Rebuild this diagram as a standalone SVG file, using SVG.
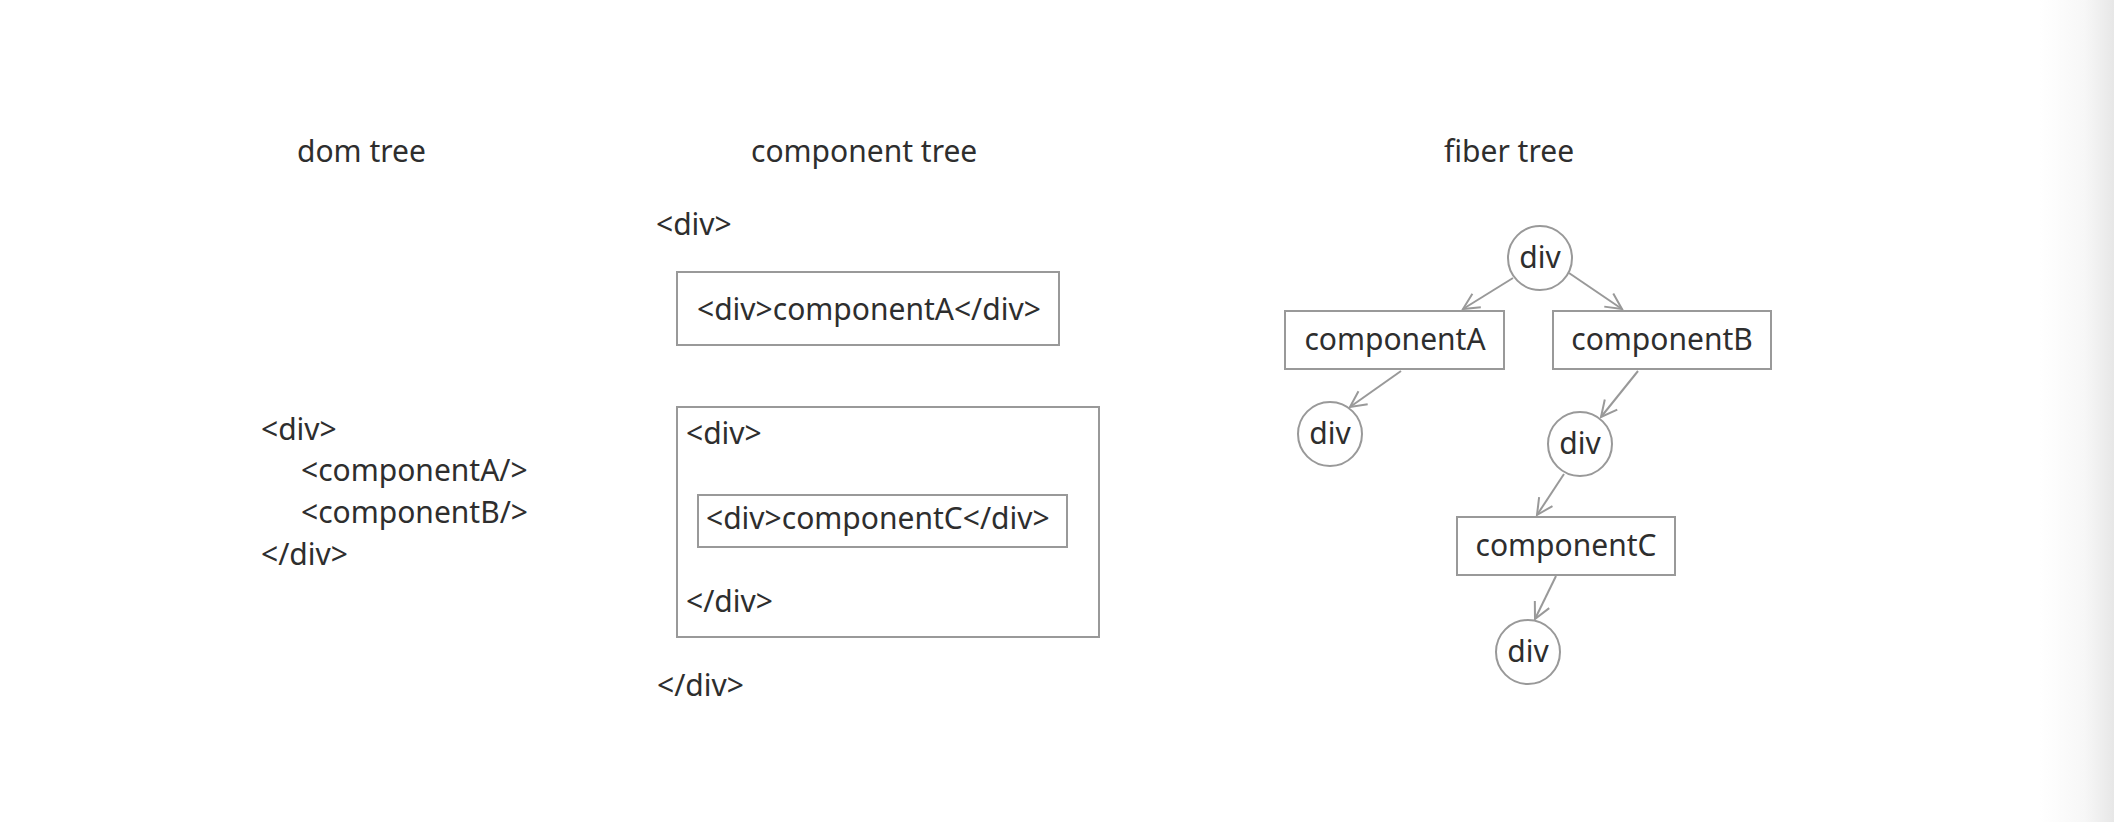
<svg xmlns="http://www.w3.org/2000/svg" width="2114" height="822" viewBox="0 0 2114 822">
<style>
text{font-family:"Noto Sans","Liberation Sans",sans-serif;font-size:30px;fill:#2e2e2e}
.box{fill:#fff;stroke:#999;stroke-width:2}
.edge{fill:none;stroke:#999;stroke-width:2;marker-end:url(#arr)}
.c{text-anchor:middle}
</style>
<defs>
<linearGradient id="edgeg" x1="0" y1="0" x2="1" y2="0">
<stop offset="0" stop-color="#ffffff"/>
<stop offset="0.6" stop-color="#f7f7f7"/>
<stop offset="1" stop-color="#e7e7e7"/>
</linearGradient>
<marker id="arr" markerUnits="userSpaceOnUse" markerWidth="40" markerHeight="40" viewBox="-20 -20 40 40" refX="0" refY="0" orient="auto">
<path d="M-16,-8 L0,0 L-16,8" fill="none" stroke="#999" stroke-width="2"/>
</marker>
</defs>
<rect x="0" y="0" width="2114" height="822" fill="#fff"/>
<rect x="2040" y="0" width="74" height="822" fill="url(#edgeg)"/>

<g id="titles">
<text x="297" y="162">dom tree</text>
<text x="751" y="162">component tree</text>
<text x="1444" y="162">fiber tree</text>
</g>

<g id="dom-tree">
<text x="261" y="440">&lt;div&gt;</text>
<text x="301" y="481">&lt;componentA/&gt;</text>
<text x="301" y="523">&lt;componentB/&gt;</text>
<text x="261" y="565">&lt;/div&gt;</text>
</g>

<g id="component-tree">
<text x="656" y="235">&lt;div&gt;</text>
<g id="compA">
<rect class="box" x="677" y="272" width="382" height="73"/>
<text x="697" y="320">&lt;div&gt;componentA&lt;/div&gt;</text>
</g>
<g id="compB">
<rect class="box" x="677" y="407" width="422" height="230"/>
<text x="686" y="444">&lt;div&gt;</text>
<g id="compC">
<rect class="box" x="698" y="495" width="369" height="52"/>
<text x="706" y="529">&lt;div&gt;componentC&lt;/div&gt;</text>
</g>
<text x="686" y="612">&lt;/div&gt;</text>
</g>
<text x="657" y="696">&lt;/div&gt;</text>
</g>

<g id="connectors">
<line class="edge" x1="1513" y1="278" x2="1463" y2="309"/>
<line class="edge" x1="1569" y1="273" x2="1622" y2="309"/>
<line class="edge" x1="1401" y1="371" x2="1350" y2="407"/>
<line class="edge" x1="1638" y1="371" x2="1601" y2="417"/>
<line class="edge" x1="1564" y1="474" x2="1537" y2="515"/>
<line class="edge" x1="1556" y1="576" x2="1535" y2="619"/>
</g>

<g id="fiber-root">
<circle class="box" cx="1540" cy="258" r="32"/>
<text class="c" x="1540" y="268">div</text>
</g>
<g id="fiber-compA">
<rect class="box" x="1285" y="311" width="219" height="58"/>
<text class="c" x="1395" y="350">componentA</text>
</g>
<g id="fiber-compB">
<rect class="box" x="1553" y="311" width="218" height="58"/>
<text class="c" x="1662" y="350">componentB</text>
</g>
<g id="fiber-divA">
<circle class="box" cx="1330" cy="434" r="32"/>
<text class="c" x="1330" y="444">div</text>
</g>
<g id="fiber-divB">
<circle class="box" cx="1580" cy="444" r="32"/>
<text class="c" x="1580" y="454">div</text>
</g>
<g id="fiber-compC">
<rect class="box" x="1457" y="517" width="218" height="58"/>
<text class="c" x="1566" y="556">componentC</text>
</g>
<g id="fiber-divC">
<circle class="box" cx="1528" cy="652" r="32"/>
<text class="c" x="1528" y="662">div</text>
</g>
</svg>
